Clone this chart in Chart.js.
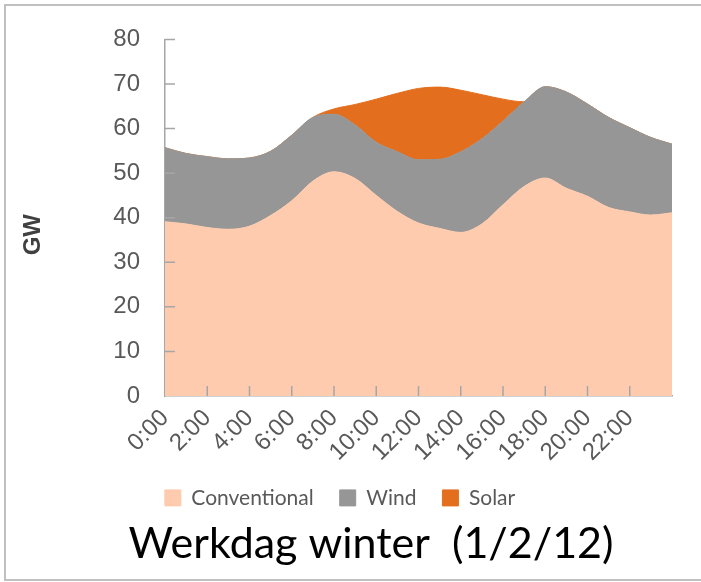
<!DOCTYPE html>
<html>
<head>
<meta charset="utf-8">
<script src="https://cdn.jsdelivr.net/npm/chart.js@4.4.1/dist/chart.umd.min.js"></script>
<style>
  body { margin: 0; background: #fff; }
  #wrap { position: relative; width: 701px; height: 582px; overflow: hidden; }
  #frame { position: absolute; left: 4px; top: 4px; width: 720px; height: 577px; border: 2px solid #c0c0c0; box-sizing: border-box; pointer-events: none; }
</style>
</head>
<body>
<div id="wrap">
  <canvas id="powerChart" width="701" height="582"></canvas>
  <div id="frame"></div>
</div>
<script>
// WERKDAG WINTER - generation per hour (GW)

const hours = [0, 1, 2, 3, 4, 5, 6, 7, 8, 9, 10, 11, 12, 13, 14, 15, 16, 17, 18, 19, 20, 21, 22, 23, 24];
const tickHours = [0, 2, 4, 6, 8, 10, 12, 14, 16, 18, 20, 22];
const tickLabels = ["0:00", "2:00", "4:00", "6:00", "8:00", "10:00", "12:00", "14:00", "16:00", "18:00", "20:00", "22:00"];

const conventional = [39.1, 38.6, 37.8, 37.4, 38.1, 40.5, 43.8, 48.2, 50.3, 48.8, 45.0, 41.4, 38.8,
  37.6, 36.7, 38.6, 42.9, 47.0, 48.9, 46.6, 44.8, 42.3, 41.3, 40.6, 41.1];
const wind = [16.6, 15.8, 15.9, 15.8, 15.3, 14.4, 14.7, 14.3, 12.9, 12.0, 11.9, 13.4, 14.2,
  15.5, 18.1, 19.1, 18.8, 19.0, 20.5, 21.6, 20.7, 20.2, 18.9, 17.4, 15.4];
const solar = [0, 0, 0, 0, 0, 0, 0, 0, 1.2, 4.6, 9.7, 13.1, 16.0,
  16.2, 13.8, 9.9, 4.9, 0, 0, 0, 0, 0, 0, 0, 0];

const toPoints = (vals) => hours.map((h, i) => ({ x: h, y: vals[i] }));

const axisGrey = "#a6a6a6";
const labelGrey = "#595959";

// inward tick marks, the GW label and a small nudge for the title/legend
const extras = {
  id: "extras",
  afterLayout(chart) {
    chart.titleBlock.left += 35;
    chart.titleBlock.right += 35;
    chart.legend.left += 4;
    chart.legend.right += 4;
  },
  afterDraw(chart) {
    const { ctx, chartArea } = chart;
    const x = chart.scales.x;
    const y = chart.scales.y;
    ctx.save();
    ctx.strokeStyle = axisGrey;
    ctx.lineWidth = 1.5;
    ctx.beginPath();
    y.ticks.forEach((t) => {
      if (t.value === 0) return;
      const py = y.getPixelForValue(t.value);
      ctx.moveTo(chartArea.left, py);
      ctx.lineTo(chartArea.left + 10, py);
    });
    x.ticks.forEach((t) => {
      if (t.value === 0) return;
      const px = x.getPixelForValue(t.value);
      ctx.moveTo(px, chartArea.bottom);
      ctx.lineTo(px, chartArea.bottom - 10);
    });
    ctx.stroke();

    ctx.fillStyle = "#404040";
    ctx.font = "bold 24px 'Liberation Sans'";
    ctx.textAlign = "center";
    ctx.textBaseline = "middle";
    ctx.translate(chartArea.left - 132, (chartArea.top + chartArea.bottom) / 2 + 17);
    ctx.rotate(-Math.PI / 2);
    ctx.fillText("GW", 0, 0);
    ctx.restore();
  },
};

const powerCtx = document.getElementById("powerChart");

new Chart(powerCtx, {
  type: "line",
  data: {
    datasets: [
      {
        label: "Conventional",
        data: toPoints(conventional),
        backgroundColor: "#fecbae",
        borderColor: "#fecbae",
        fill: "origin",
      },
      {
        label: "Wind",
        data: toPoints(wind),
        backgroundColor: "#969696",
        borderColor: "#969696",
        fill: "-1",
      },
      {
        label: "Solar",
        data: toPoints(solar),
        backgroundColor: "#e36f1e",
        borderColor: "#e36f1e",
        fill: "-1",
      },
    ],
  },
  options: {
    responsive: false,
    animation: false,
    elements: {
      point: { radius: 0 },
      line: { borderWidth: 1, cubicInterpolationMode: "monotone" },
    },
    layout: { padding: { top: 37, left: 0, right: 29, bottom: 0 } },
    plugins: {
      tooltip: { enabled: false },
      legend: {
        position: "bottom",
        labels: {
          boxWidth: 16,
          boxHeight: 16,
          padding: 26,
          color: labelGrey,
          font: { family: "Lato", size: 21 },
        },
      },
      title: {
        display: true,
        position: "bottom",
        text: "Werkdag winter  (1/2/12)",
        color: "#000",
        font: { family: "Lato", size: 43, weight: "normal", lineHeight: 1.2 },
        padding: { top: 0, bottom: 12 },
      },
    },
    scales: {
      x: {
        type: "linear",
        min: 0,
        max: 24,
        z: 1,
        grid: { display: false, drawTicks: false },
        border: { display: true, color: axisGrey, width: 1.5 },
        afterBuildTicks: (s) => {
          s.ticks = tickHours.map((v) => ({ value: v }));
        },
        afterFit: (s) => {
          s.height = 582 - 396 - s.chart.legend.height - s.chart.titleBlock.height;
        },
        ticks: {
          autoSkip: false,
          maxRotation: 45,
          minRotation: 45,
          padding: 8,
          color: labelGrey,
          font: { family: "Liberation Sans", size: 24 },
          callback: (v, i) => tickLabels[i],
        },
      },
      y: {
        stacked: true,
        min: 0,
        max: 80,
        z: 1,
        grid: { display: false, drawTicks: false },
        border: { display: true, color: axisGrey, width: 1.5 },
        afterFit: (s) => {
          s.width = 165;
        },
        ticks: {
          stepSize: 10,
          padding: 25,
          color: labelGrey,
          font: { family: "Liberation Sans", size: 24 },
        },
      },
    },
  },
  plugins: [extras],
});
</script>
</body>
</html>
